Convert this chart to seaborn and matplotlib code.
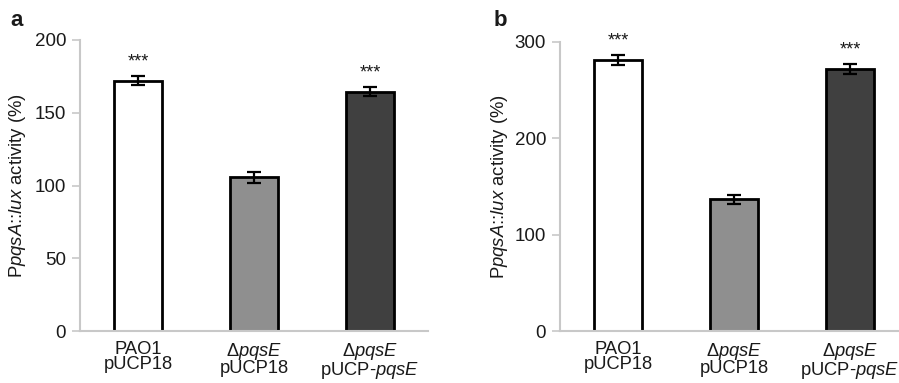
import numpy as np
import pandas as pd
import matplotlib
matplotlib.use("Agg")
import matplotlib.pyplot as plt
import seaborn as sns

strains = ["PAO1\npUCP18", "Δ$\\mathit{pqsE}$\npUCP18", "Δ$\\mathit{pqsE}$\npUCP-$\\mathit{pqsE}$"]
activity_a = [172, 105.5, 164.5]
err_a = [3, 4, 3]
activity_b = [281, 136.5, 271.5]
err_b = [5.5, 4.5, 5]
stars = ["***", "", "***"]
bar_colors = ["#ffffff", "#8f8f8f", "#404040"]

sns.set_style("white")
plt.rcParams["font.family"] = ["Liberation Sans", "DejaVu Sans"]
plt.rcParams["mathtext.fontset"] = "custom"
plt.rcParams["mathtext.rm"] = "Liberation Sans"
plt.rcParams["mathtext.it"] = "Liberation Sans:italic"
plt.rcParams["text.color"] = "#1a1a1a"
plt.rcParams["xtick.color"] = "#1a1a1a"
plt.rcParams["ytick.color"] = "#1a1a1a"
plt.rcParams["axes.labelcolor"] = "#1a1a1a"

fig = plt.figure(figsize=(8.99, 3.83), dpi=100)
ax_a = fig.add_axes([80 / 899, 1 - 331 / 383, 348 / 899, 291 / 383])
ax_b = fig.add_axes([560 / 899, 1 - 331 / 383, 348 / 899, 289.3 / 383])

panels = [(ax_a, activity_a, err_a, 200, [0, 50, 100, 150, 200], "a", 10),
          (ax_b, activity_b, err_b, 300, [0, 100, 200, 300], "b", 494)]

for ax, vals, errs, ymax, yticks, letter, lx in panels:
    df = pd.DataFrame({"strain": strains, "activity": vals})
    sns.barplot(data=df, x="strain", y="activity", hue="strain", palette=bar_colors,
                width=0.41, edgecolor="black", linewidth=2, errorbar=None,
                legend=False, ax=ax)
    ax.errorbar(np.arange(len(vals)), vals, yerr=errs, fmt="none", ecolor="black",
                elinewidth=1.6, capsize=5, capthick=1.6)
    for i, (v, e, s) in enumerate(zip(vals, errs, stars)):
        if s:
            ax.annotate(s, (i, v + e), xytext=(0, 4), textcoords="offset points",
                        ha="center", va="bottom", fontsize=13)
    ax.set_xlim(-0.5, 2.5)
    ax.set_ylim(0, ymax)
    ax.set_yticks(yticks)
    ax.set_xticks(np.arange(len(vals)))
    ax.set_xticklabels(strains, fontsize=13.2, linespacing=0.86)
    ax.set_xticks([-0.5, 0.5, 1.5, 2.5], minor=True)
    ax.tick_params(axis="x", which="major", length=0, pad=7)
    ax.tick_params(axis="x", which="minor", length=5, width=1.2, color="#c8c8c8", direction="out")
    ax.tick_params(axis="y", length=6, width=1.2, color="#c8c8c8", direction="out",
                   labelsize=13.5, labelcolor="#1a1a1a", pad=4, left=True)
    ax.set_xlabel("")
    ax.set_ylabel("P$\\mathit{pqsA}$::$\\mathit{lux}$ activity (%)", fontsize=13.3)
    for side in ["top", "right"]:
        ax.spines[side].set_visible(False)
    for side in ["left", "bottom"]:
        ax.spines[side].set_color("#c8c8c8")
        ax.spines[side].set_linewidth(1.5)
    fig.text(lx / 899, 1 - 21 / 383, letter, fontsize=16, fontweight="bold", va="center")

ax_a.yaxis.set_label_coords(-0.15, 0.5)
ax_b.yaxis.set_label_coords(-0.145, 0.5)

fig.savefig("out.png", dpi=100)
